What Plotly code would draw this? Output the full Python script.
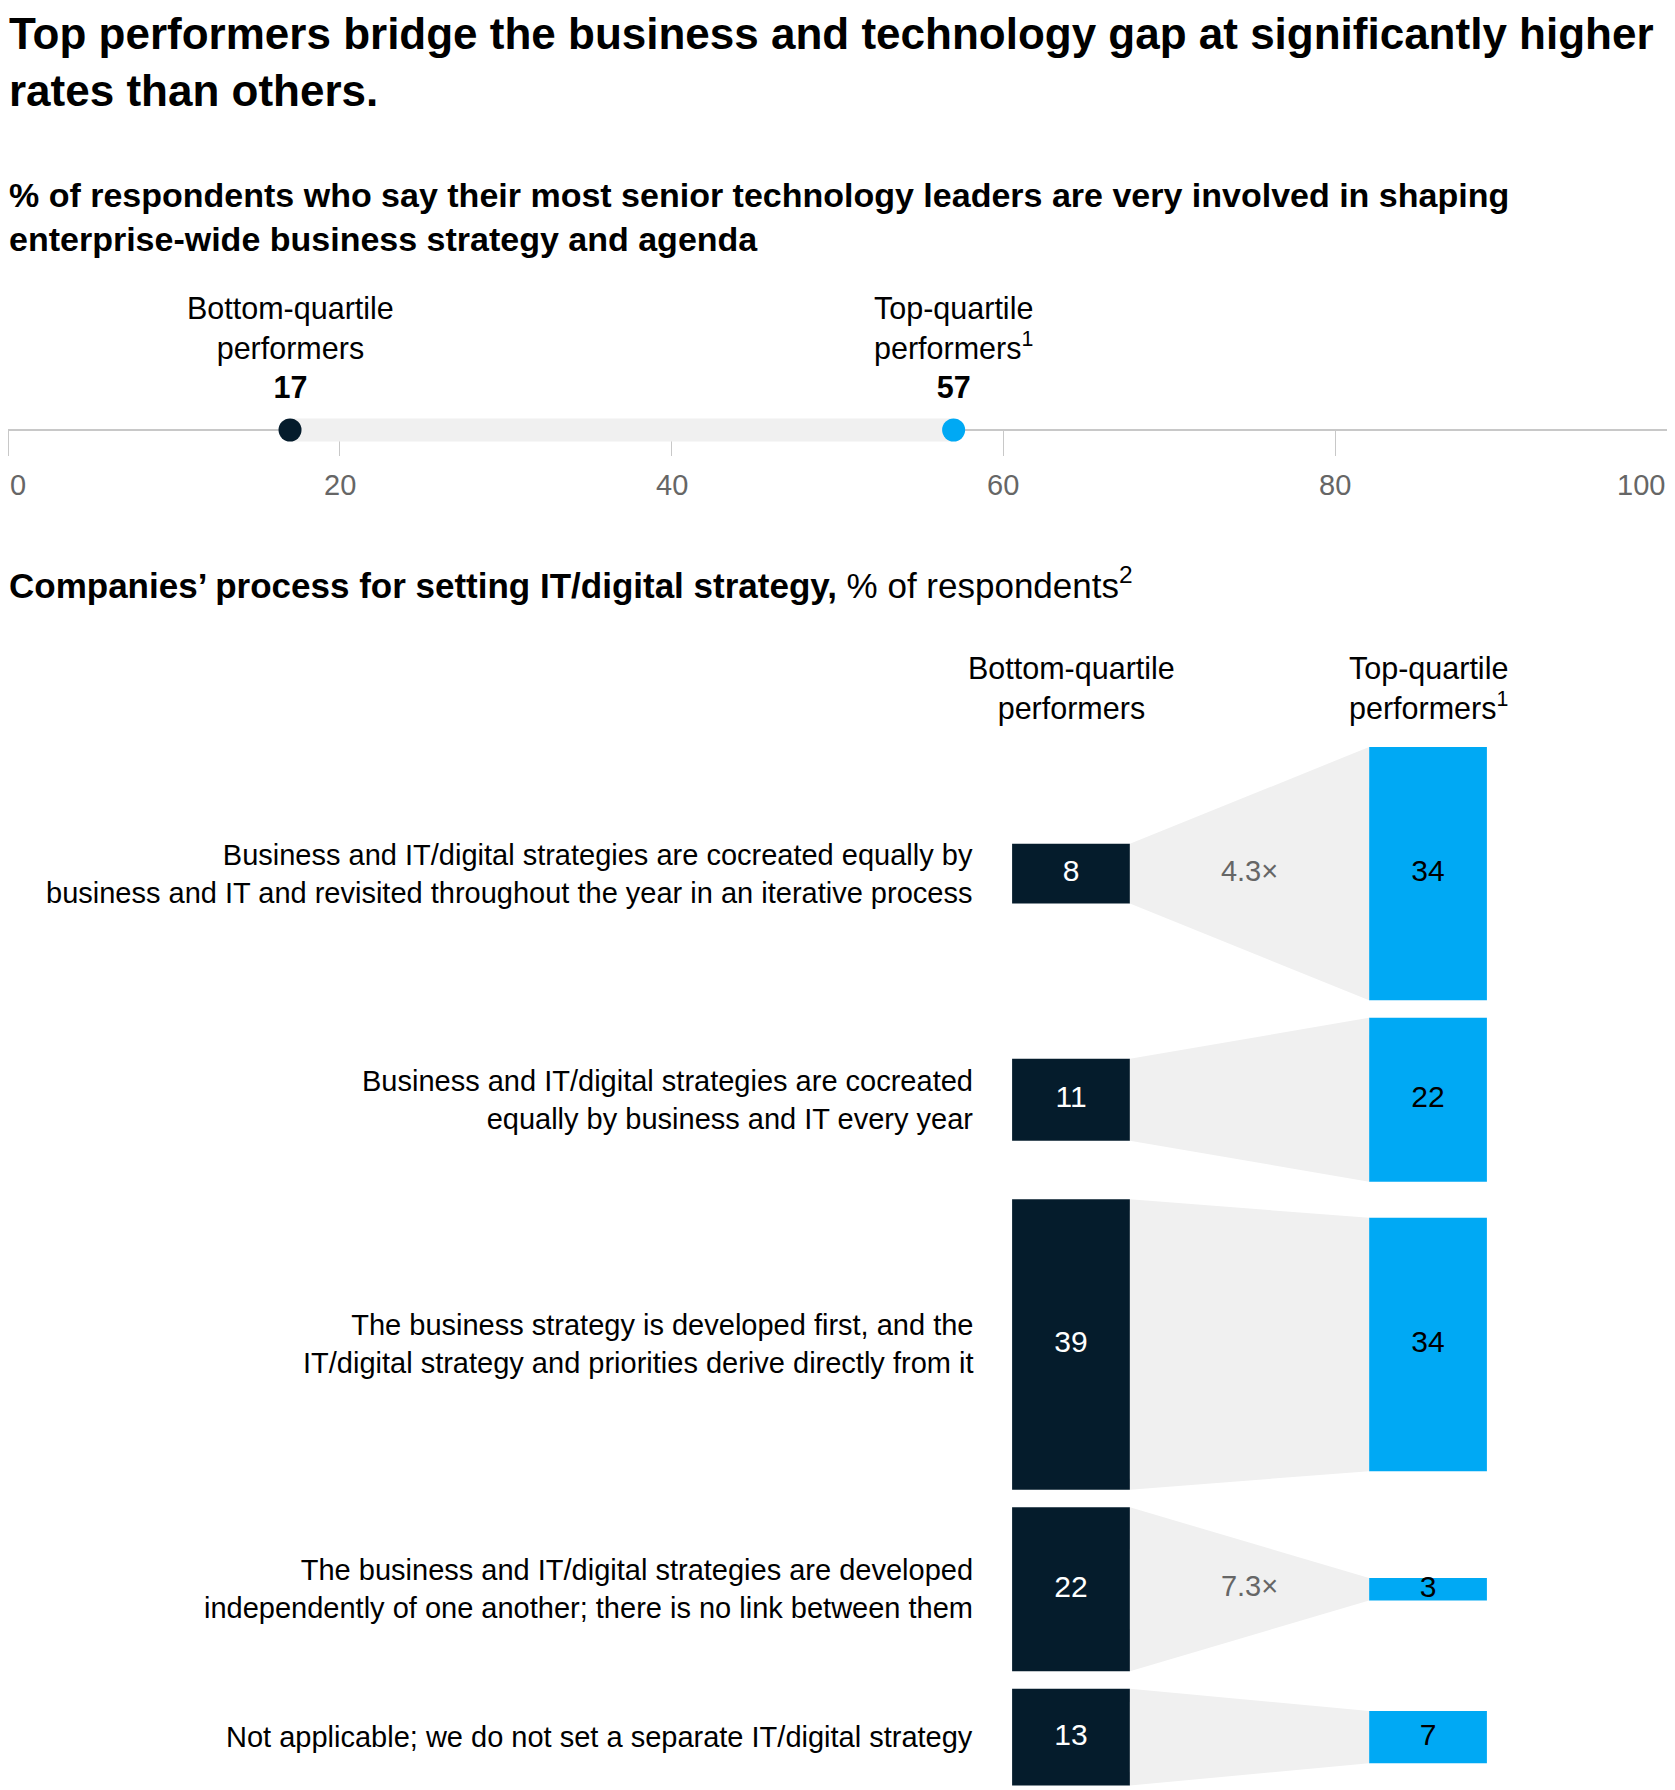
import plotly.graph_objects as go

# ---- data ----
GROUP_LABELS = ["Bottom-quartile<br>performers", "Top-quartile<br>performers<sup>1</sup>"]
INVOLVED = [17, 57]
AXIS_TICKS = [0, 20, 40, 60, 80, 100]

PROCESSES = [
    "Business and IT/digital strategies are cocreated equally by<br>business and IT and revisited throughout the year in an iterative process",
    "Business and IT/digital strategies are cocreated<br>equally by business and IT every year",
    "The business strategy is developed first, and the<br>IT/digital strategy and priorities derive directly from it",
    "The business and IT/digital strategies are developed<br>independently of one another; there is no link between them",
    "Not applicable; we do not set a separate IT/digital strategy",
]
BOTTOM = [8, 11, 39, 22, 13]
TOP = [34, 22, 34, 3, 7]
RATIOS = ["4.3×", "", "", "7.3×", ""]

# ---- style ----
NAVY = "#051c2c"
BLUE = "#00a9f4"
GRAY_BAND = "#f0f0f0"
FONT = "Liberation Sans, Arial, sans-serif"
W, H = 1675, 1790
OFF = 8         # page margin the browser adds round the figure
GAP = 2.35      # space between rows, in % units
BW = 0.33       # bar width, in column units
PX_PER_PCT = 7.45


def px_x(px):
    return (px - OFF) / W


def px_y(px):
    # pixel from top of the page -> paper fraction
    return 1 - (px - OFF) / H


# row centres, stacked from the data
centers = []
pos = 0
for b, t in zip(BOTTOM, TOP):
    h = max(b, t)
    centers.append(pos + h / 2)
    pos += h + GAP

fig = go.Figure()

# ---- dumbbell ----
fig.add_trace(go.Scatter(
    x=INVOLVED, y=[0, 0], mode="lines",
    line=dict(color=GRAY_BAND, width=23), hoverinfo="skip",
    xaxis="x", yaxis="y",
))
fig.add_trace(go.Scatter(
    x=INVOLVED, y=[0, 0], mode="markers",
    marker=dict(color=[NAVY, BLUE], size=23, line=dict(width=0)),
    cliponaxis=False, xaxis="x", yaxis="y",
))

annotations = []
for lab, v in zip(GROUP_LABELS, INVOLVED):
    annotations.append(dict(
        x=v, xref="x", y=px_y(347), yref="paper", yanchor="middle",
        text=f"{lab}<br><b>{v}</b>", showarrow=False,
        font=dict(size=30.5, color="#000000", family=FONT), align="center",
    ))
for t in AXIS_TICKS:
    anchor = "left" if t == AXIS_TICKS[0] else ("right" if t == AXIS_TICKS[-1] else "center")
    annotations.append(dict(
        x=t, xref="x", xanchor=anchor, y=px_y(485), yref="paper", yanchor="middle",
        text=str(t), showarrow=False,
        font=dict(size=29, color="#666666", family=FONT),
    ))

# ---- process bars ----
for b, t, c in zip(BOTTOM, TOP, centers):
    x0, x1 = BW / 2, 1 - BW / 2
    fig.add_trace(go.Scatter(
        x=[x0, x1, x1, x0, x0],
        y=[c - b / 2, c - t / 2, c + t / 2, c + b / 2, c - b / 2],
        fill="toself", fillcolor=GRAY_BAND, mode="lines",
        line=dict(width=0), hoverinfo="skip", xaxis="x2", yaxis="y2",
    ))

fig.add_trace(go.Bar(
    x=[0] * len(BOTTOM), y=BOTTOM, base=[c - v / 2 for c, v in zip(centers, BOTTOM)],
    width=BW, marker=dict(color=NAVY, line=dict(width=0)), xaxis="x2", yaxis="y2",
))
fig.add_trace(go.Bar(
    x=[1] * len(TOP), y=TOP, base=[c - v / 2 for c, v in zip(centers, TOP)],
    width=BW, marker=dict(color=BLUE, line=dict(width=0)), xaxis="x2", yaxis="y2",
))
fig.add_trace(go.Scatter(
    x=[0] * len(BOTTOM), y=centers, mode="text", text=[str(v) for v in BOTTOM],
    textfont=dict(size=30, color="#ffffff", family=FONT), cliponaxis=False,
    xaxis="x2", yaxis="y2",
))
fig.add_trace(go.Scatter(
    x=[1] * len(TOP), y=centers, mode="text", text=[str(v) for v in TOP],
    textfont=dict(size=30, color="#000000", family=FONT), cliponaxis=False,
    xaxis="x2", yaxis="y2",
))
ratio_rows = [(r, c) for r, c in zip(RATIOS, centers) if r]
fig.add_trace(go.Scatter(
    x=[0.5] * len(ratio_rows), y=[c for _, c in ratio_rows], mode="text",
    text=[r for r, _ in ratio_rows],
    textfont=dict(size=29, color="#666666", family=FONT), cliponaxis=False,
    xaxis="x2", yaxis="y2",
))

for lab, c in zip(PROCESSES, centers):
    annotations.append(dict(
        x=px_x(975), xref="paper", xanchor="right", y=c, yref="y2", yanchor="middle",
        text=lab, align="right", showarrow=False,
        font=dict(size=29, color="#000000", family=FONT),
    ))
for i, lab in enumerate(GROUP_LABELS):
    annotations.append(dict(
        x=i, xref="x2", y=px_y(688), yref="paper", yanchor="middle",
        text=lab, showarrow=False, align="center",
        font=dict(size=30.5, color="#000000", family=FONT),
    ))

# ---- headings ----
annotations += [
    dict(x=0, xref="paper", xanchor="left", y=px_y(62), yref="paper", yanchor="middle",
         text="<b>Top performers bridge the business and technology gap at significantly higher<br>rates than others.</b>",
         align="left", showarrow=False, borderpad=0,
         font=dict(size=44, color="#000000", family=FONT)),
    dict(x=0, xref="paper", xanchor="left", y=px_y(217), yref="paper", yanchor="middle",
         text="<b>% of respondents who say their most senior technology leaders are very involved in shaping<br>enterprise-wide business strategy and agenda</b>",
         align="left", showarrow=False, borderpad=0,
         font=dict(size=34, color="#000000", family=FONT)),
    dict(x=0, xref="paper", xanchor="left", y=px_y(583), yref="paper", yanchor="middle",
         text="<b>Companies’ process for setting IT/digital strategy,</b> % of respondents<sup>2</sup>",
         align="left", showarrow=False, borderpad=0,
         font=dict(size=35, color="#000000", family=FONT)),
]

fig.update_layout(
    width=W, height=H, margin=dict(l=0, r=0, t=0, b=0),
    paper_bgcolor="white", plot_bgcolor="white",
    showlegend=False, barmode="overlay",
    annotations=annotations,
    xaxis=dict(
        domain=[px_x(8), px_x(1667)], range=[0, 100], anchor="free", position=px_y(430),
        showgrid=False, zeroline=False, showline=True, linecolor="#c8c8c8", linewidth=1.5,
        ticks="outside", tickvals=AXIS_TICKS, ticklen=25, tickcolor="#c8c8c8", tickwidth=1,
        showticklabels=False, layer="below traces", fixedrange=True,
    ),
    yaxis=dict(
        domain=[px_y(430) - 0.03, px_y(430) + 0.03], range=[-1, 1], visible=False, fixedrange=True,
    ),
    xaxis2=dict(
        domain=[px_x(892.5), px_x(1606.5)], range=[-0.5, 1.5], anchor="y2", visible=False,
    ),
    yaxis2=dict(
        domain=[0, px_y(747)], range=[(H - 747 + OFF) / PX_PER_PCT, 0], anchor="x2", visible=False,
    ),
)

fig.write_html("out.html")
